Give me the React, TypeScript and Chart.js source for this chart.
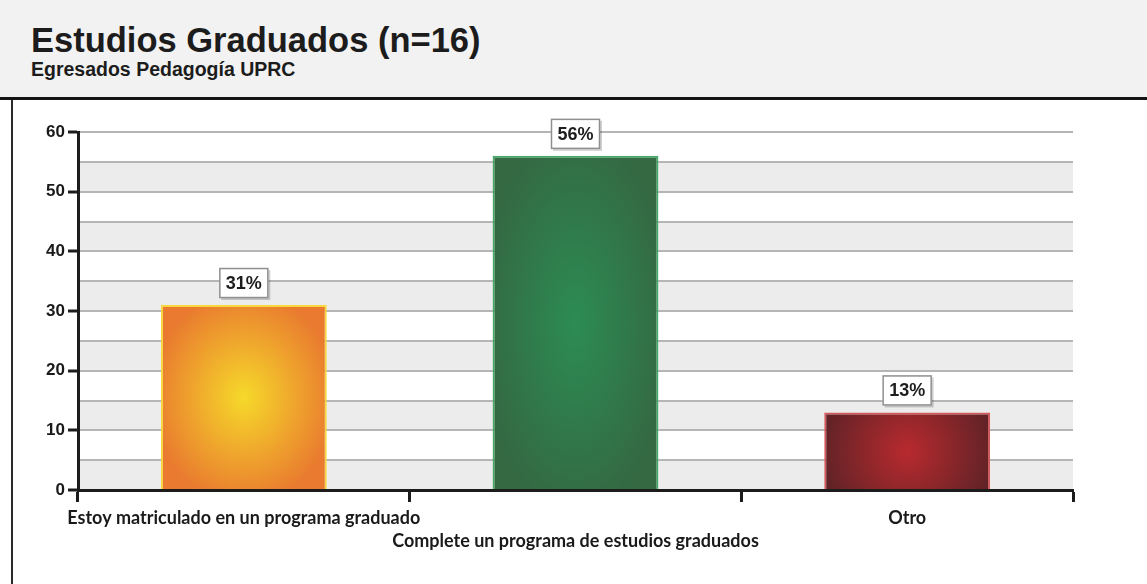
import React, { useEffect, useRef } from 'react';
import { Chart, registerables } from 'chart.js';

Chart.register(...registerables);

const titleText = 'Estudios Graduados (n=16)';
const subtitleText = 'Egresados Pedagogía UPRC';
const categories: string[][] = [
  ['Estoy matriculado en un programa graduado'],
  ['', 'Complete un programa de estudios graduados'],
  ['Otro'],
];
const values = [31, 56, 13];
const valueLabels = ['31%', '56%', '13%'];
const centerColors = ['#f6d92a', '#2c8c53', '#b82a2e'];
const edgeColors = ['#e97a2f', '#346942', '#5a2226'];
const borderColors = ['#f8d83c', '#46a867', '#d4585a'];
const yMax = 60;
const yStep = 5;
const yLabelStep = 10;

function barFill(c: any) {
  const i = c.dataIndex ?? 0;
  const chart = c.chart;
  const xs = chart.scales?.x;
  const ys = chart.scales?.y;
  if (c.type !== 'data' || !xs || !ys || !chart.width) return edgeColors[i];
  const cx = xs.getPixelForValue(i);
  const w = (xs.width / categories.length) * 0.5;
  const top = ys.getPixelForValue(values[i]);
  const bottom = ys.getPixelForValue(0);
  const h = bottom - top;
  const cy = (top + bottom) / 2;
  const off = document.createElement('canvas');
  off.width = chart.width;
  off.height = chart.height;
  const o = off.getContext('2d')!;
  const rx = w * 0.56;
  const ry = Math.max(h * 0.58, rx);
  o.translate(cx, cy);
  o.scale(rx, ry);
  const g = o.createRadialGradient(0, 0, 0, 0, 0, 1);
  g.addColorStop(0, centerColors[i]);
  g.addColorStop(1, edgeColors[i]);
  o.fillStyle = g;
  o.fillRect(-3, -3, 6, 6);
  return chart.ctx.createPattern(off, 'no-repeat') || edgeColors[i];
}

const bandsPlugin = {
  id: 'bands',
  beforeDraw(chart: any) {
    const { ctx, chartArea: a, scales } = chart;
    const y = scales.y;
    ctx.save();
    ctx.fillStyle = '#ececec';
    for (let v = 0; v < yMax; v += yStep * 2) {
      const t = y.getPixelForValue(v + yStep);
      const b = y.getPixelForValue(v);
      ctx.fillRect(a.left, t, a.right - a.left, b - t);
    }
    ctx.restore();
  },
};

const boxLabelsPlugin = {
  id: 'boxLabels',
  afterDatasetsDraw(chart: any) {
    const { ctx } = chart;
    const meta = chart.getDatasetMeta(0);
    ctx.save();
    ctx.font = 'bold 18px "Liberation Sans", Arial, sans-serif';
    ctx.textAlign = 'center';
    ctx.textBaseline = 'middle';
    meta.data.forEach((el: any, i: number) => {
      const bw = 49;
      const bh = 30;
      const x = el.x - bw / 2;
      const y = el.y - 7 - bh;
      ctx.fillStyle = 'rgba(0,0,0,0.18)';
      ctx.fillRect(x + 2, y + 2, bw, bh);
      ctx.fillStyle = '#ffffff';
      ctx.fillRect(x, y, bw, bh);
      ctx.strokeStyle = '#8f8f8f';
      ctx.lineWidth = 1.5;
      ctx.strokeRect(x + 0.5, y + 0.5, bw - 1, bh - 1);
      ctx.fillStyle = '#1e1e1e';
      ctx.fillText(valueLabels[i], el.x, y + bh / 2 + 1);
    });
    ctx.restore();
  },
};

export default function App() {
  const ref = useRef<HTMLCanvasElement>(null);

  useEffect(() => {
    if (!ref.current) return;
    const chart = new Chart(ref.current, {
      type: 'bar',
      data: {
        labels: categories,
        datasets: [
          {
            data: values,
            backgroundColor: barFill as any,
            borderColor: borderColors,
            borderWidth: 2,
            categoryPercentage: 1,
            barPercentage: 0.5,
          },
        ],
      },
      options: {
        animation: false,
        responsive: false,
        layout: { padding: { top: 32, right: 74, bottom: 0, left: 0 } },
        plugins: {
          legend: { display: false },
          tooltip: { enabled: false },
          title: { display: false },
        },
        scales: {
          x: {
            afterFit: (s: any) => {
              s.height = 94;
            },
            border: { display: true, color: '#1c1c1c', width: 3 },
            grid: {
              display: true,
              offset: true,
              drawOnChartArea: false,
              drawTicks: true,
              tickLength: 12,
              tickWidth: 3,
              tickColor: '#1c1c1c',
            },
            ticks: {
              autoSkip: false,
              maxRotation: 0,
              minRotation: 0,
              padding: 5,
              color: '#1a1a1a',
              font: { family: 'Lato, "Open Sans", sans-serif', size: 18, weight: 'bold', lineHeight: '23px' as any },
            },
          },
          y: {
            min: 0,
            max: yMax,
            afterFit: (s: any) => {
              s.width = 64;
            },
            border: { display: true, color: '#1c1c1c', width: 3 },
            grid: {
              color: (c: any) => (c.tick && c.tick.value === 0 ? 'rgba(0,0,0,0)' : '#b5b5b5'),
              lineWidth: 2,
              drawTicks: true,
              tickLength: 10,
              tickWidth: 3,
              tickColor: (c: any) =>
                c.tick && c.tick.value % yLabelStep === 0 ? '#1c1c1c' : 'rgba(0,0,0,0)',
            },
            ticks: {
              stepSize: yStep,
              padding: 3,
              color: '#1a1a1a',
              font: { family: '"Liberation Sans", Arial, sans-serif', size: 17, weight: 'bold' },
              callback: (v: any) => (Number(v) % yLabelStep === 0 ? String(v) : ''),
            },
          },
        },
      },
      plugins: [bandsPlugin, boxLabelsPlugin],
    });
    return () => chart.destroy();
  }, []);

  return (
    <div
      style={{
        position: 'fixed',
        left: 0,
        top: 0,
        width: 1147,
        height: 584,
        background: '#ffffff',
        overflow: 'hidden',
        fontFamily: '"Liberation Sans", Arial, sans-serif',
      }}
    >
      <div
        style={{
          position: 'absolute',
          left: 0,
          top: 0,
          width: 1147,
          height: 97,
          background: '#f2f2f2',
          borderBottom: '3px solid #141414',
        }}
      />
      <div
        style={{
          position: 'absolute',
          left: 31,
          top: 23,
          fontSize: 34.5,
          lineHeight: '34.5px',
          fontWeight: 'bold',
          color: '#1c1c1c',
          whiteSpace: 'nowrap',
        }}
      >
        {titleText}
      </div>
      <div
        style={{
          position: 'absolute',
          left: 31,
          top: 60,
          fontSize: 19.5,
          lineHeight: '19.5px',
          fontWeight: 'bold',
          color: '#1c1c1c',
          whiteSpace: 'nowrap',
        }}
      >
        {subtitleText}
      </div>
      <div
        style={{
          position: 'absolute',
          left: 11,
          top: 100,
          width: 2,
          height: 484,
          background: '#2a2a2a',
        }}
      />
      <canvas
        ref={ref}
        width={1133}
        height={484}
        style={{ position: 'absolute', left: 14, top: 100, width: 1133, height: 484 }}
      />
    </div>
  );
}
